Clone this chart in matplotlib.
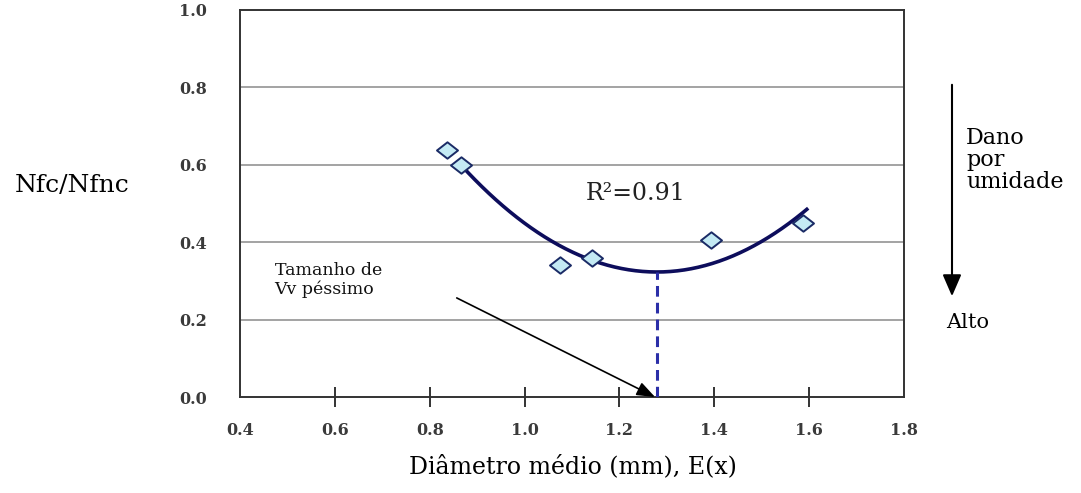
import numpy as np
import matplotlib
matplotlib.use("Agg")
import matplotlib.pyplot as plt
from matplotlib.path import Path
from matplotlib.patches import FancyArrowPatch

plt.rcParams['font.family'] = ['DejaVu Serif', 'Liberation Serif']

# Measured data: mean void diameter vs. fatigue ratio
diametro = [0.836, 0.866, 1.075, 1.142, 1.393, 1.587]
nfc_nfnc = [0.639, 0.600, 0.342, 0.360, 0.406, 0.450]

# Quadratic trend line (vertex form): y = y_min + k*(x - x_min)^2
x_min = 1.279
y_min = 0.323
k = 1.62
trend_x_range = (0.866, 1.598)
r2_text = "R²=0.91"

x_ticks = [0.4, 0.6, 0.8, 1.0, 1.2, 1.4, 1.6, 1.8]
y_ticks = [0.0, 0.2, 0.4, 0.6, 0.8, 1.0]

W, H = 1081, 493
fig = plt.figure(figsize=(W / 100, H / 100), dpi=100)
ax = fig.add_axes([240 / W, 1 - 397 / H, (904 - 240) / W, (397 - 10) / H])

ax.set_xlim(0.4, 1.8)
ax.set_ylim(0.0, 1.0)

# gridlines
for yv in y_ticks[1:-1]:
    ax.axhline(yv, color='#8a8a8a', lw=1.1, zorder=0)

# trend curve
xs = np.linspace(trend_x_range[0], trend_x_range[1], 200)
ys = y_min + k * (xs - x_min) ** 2
ax.plot(xs, ys, color='#0d0d5c', lw=2.6, zorder=3, solid_capstyle='butt')

# data points (slightly flattened diamonds)
diamond = Path([(-1, 0), (0, 0.78), (1, 0), (0, -0.78), (-1, 0)],
               [Path.MOVETO, Path.LINETO, Path.LINETO, Path.LINETO,
                Path.CLOSEPOLY])
ax.scatter(diametro, nfc_nfnc, marker=diamond, s=230, facecolor='#c4eaf4',
           edgecolor='#1b2b66', linewidth=1.4, zorder=4)

# dashed drop line at the minimum
ax.plot([x_min, x_min], [0, y_min], color='#2b2fa8', lw=2.2,
        linestyle=(0, (3.5, 2.0)), zorder=3)

# annotation arrow
ax.annotate("", xy=(x_min - 0.004, 0.0), xytext=(0.857, 0.256),
            arrowprops=dict(arrowstyle='-|>,head_length=1.1,head_width=0.42',
                            color='black', lw=1.2, shrinkA=0, shrinkB=0),
            zorder=5)
ax.text(0.473, 0.302, "Tamanho de\nVv péssimo", fontsize=12.5,
        ha='left', va='center', linespacing=1.1, color='#111111')

ax.text(1.128, 0.527, r2_text, fontsize=17, ha='left', va='center',
        color='#222222')

# spines
for s in ax.spines.values():
    s.set_color('#333333')
    s.set_linewidth(1.4)

ax.xaxis.remove_overlapping_locs = False
ax.set_xticks(x_ticks)
ax.set_xticklabels([f"{v:.1f}" for v in x_ticks], fontsize=11.5,
                   fontweight='bold')
ax.set_yticks(y_ticks)
ax.set_yticklabels([f"{v:.1f}" for v in y_ticks], fontsize=11.5,
                   fontweight='bold')
ax.tick_params(axis='x', length=0, pad=18)
ax.tick_params(axis='y', length=0, pad=24)
ax.set_xticks(x_ticks[1:-1], minor=True)
ax.tick_params(axis='x', which='minor', direction='inout', length=14,
               width=1.4, color='#333333')
for lbl in ax.get_xticklabels() + ax.get_yticklabels():
    lbl.set_color('#3a3a3a')

# axis titles
fig.text(72 / W, 1 - 186 / H, "Nfc/Nfnc", fontsize=18, ha='center',
         va='center')
fig.text(573 / W, 1 - 466 / H, "Diâmetro médio (mm), E(x)", fontsize=17,
         ha='center', va='center')

# moisture damage indicator
fig.patches.append(FancyArrowPatch(
    (952 / W, 1 - 82 / H), (952 / W, 1 - 299 / H),
    transform=fig.transFigure, arrowstyle='-|>,head_length=6,head_width=2.6',
    color='black', lw=1.5, mutation_scale=2.2))
fig.text(966 / W, 1 - 160 / H, "Dano\npor\numidade", fontsize=16,
         ha='left', va='center', linespacing=1.0)
fig.text(968 / W, 1 - 322 / H, "Alto", fontsize=15, ha='center',
         va='center')

fig.savefig("out.png", dpi=100, facecolor='white')
